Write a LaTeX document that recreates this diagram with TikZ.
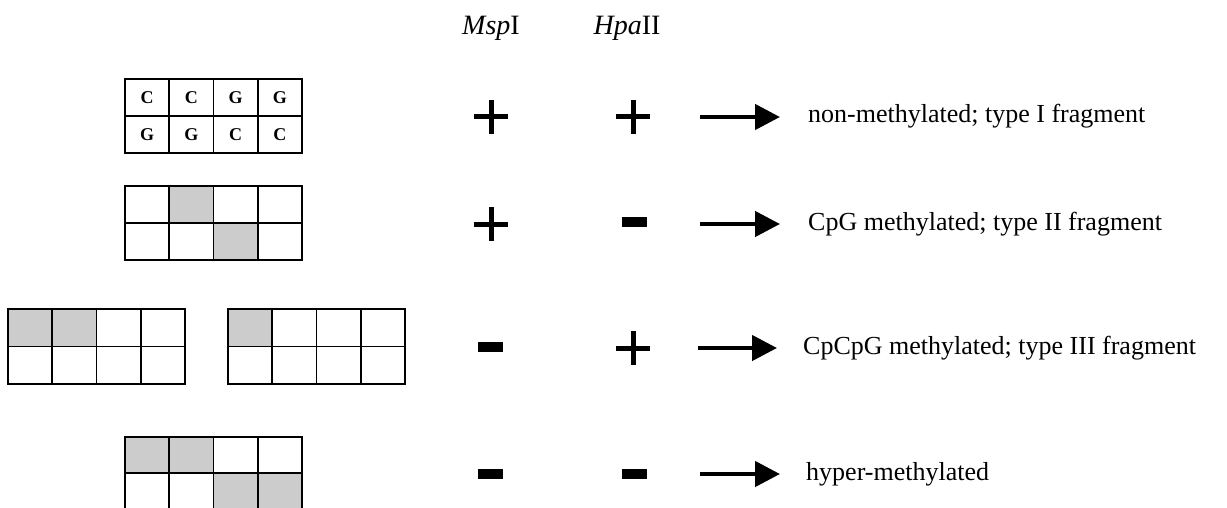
\documentclass[tikz,border=0pt]{standalone}
\usepackage{fontspec}
\setmainfont{Liberation Serif}
\usetikzlibrary{arrows.meta}
\definecolor{methgray}{RGB}{204,204,204}
\begin{document}
\begin{tikzpicture}[x=1pt,y=-1pt,
  cell/.style={draw=black, line width=1.8pt},
  meth/.style={fill=methgray},
  sign/.style={line width=5pt},
  minusbar/.style={fill=black},
  result/.style={-{Triangle[length=25pt,width=25pt]}, line width=4.5pt},
  label/.style={anchor=base west, inner sep=0pt, font=\fontsize{26}{31}\selectfont},
  enzyme/.style={anchor=base, inner sep=0pt, font=\fontsize{28}{34}\selectfont},
  base/.style={inner sep=0pt, font=\bfseries\fontsize{18}{20}\selectfont}]
\useasboundingbox (0,0) rectangle (1227,508);
\clip (0,0) rectangle (1227,508);

% enzyme headers
\node[enzyme] (msp) at (491,35) {\textit{Msp}I};
\node[enzyme] (hpa) at (627,35) {\textit{Hpa}II};

% row 1: CCGG / GGCC, unmethylated
\foreach \c in {0,...,3}\foreach \r in {0,1}
  \draw[cell] (125+\c*44.25,79+\r*37) rectangle ++(44.25,37);
\foreach \l [count=\i from 0] in {C,C,G,G}
  \node[base] (top\i) at (125+22.1+\i*44.25,97.5) {\l};
\foreach \l [count=\i from 0] in {G,G,C,C}
  \node[base] (bot\i) at (125+22.1+\i*44.25,134.5) {\l};

% row 2: inner C methylated on both strands
\fill[meth] (125+44.25,186) rectangle ++(44.25,37);
\fill[meth] (125+88.5,223) rectangle ++(44.25,37);
\foreach \c in {0,...,3}\foreach \r in {0,1}
  \draw[cell] (125+\c*44.25,186+\r*37) rectangle ++(44.25,37);

% row 3: outer C methylated (hemi- and fully)
\fill[meth] (8,309) rectangle ++(88.5,37.5);
\fill[meth] (228,309) rectangle ++(44.25,37.5);
\foreach \x in {8,228}\foreach \c in {0,...,3}\foreach \r in {0,1}
  \draw[cell] (\x+\c*44.25,309+\r*37.5) rectangle ++(44.25,37.5);

% row 4: both C methylated
\fill[meth] (125,437) rectangle ++(88.5,36);
\fill[meth] (125+88.5,473) rectangle ++(88.5,36);
\foreach \c in {0,...,3}\foreach \r in {0,1}
  \draw[cell] (125+\c*44.25,437+\r*36) rectangle ++(44.25,36);

% digestion results: + cut, - no cut
\draw[sign] (474,117) -- (508,117) (491,100) -- (491,134);
\draw[sign] (616,117) -- (650,117) (633,100) -- (633,134);
\draw[sign] (474,224) -- (508,224) (491,207) -- (491,241);
\fill[minusbar] (622,217) rectangle (647,227);
\fill[minusbar] (478,342) rectangle (503,352);
\draw[sign] (616,348) -- (650,348) (633,331) -- (633,365);
\fill[minusbar] (478,469) rectangle (503,479);
\fill[minusbar] (622,469) rectangle (647,479);

% interpretations
\node[label] (lab1) at (808,123) {non-methylated; type I fragment};
\node[label] (lab2) at (808,230) {CpG methylated; type II fragment};
\node[label] (lab3) at (803,354) {CpCpG methylated; type III fragment};
\node[label] (lab4) at (806,480) {hyper-methylated};

\coordinate (t1) at (700,117);
\coordinate (t2) at (700,224);
\coordinate (t3) at (698,348);
\coordinate (t4) at (700,474);
\draw[result, shorten >=28pt] (t1) -- (t1 -| lab1.west);
\draw[result, shorten >=28pt] (t2) -- (t2 -| lab2.west);
\draw[result, shorten >=26pt] (t3) -- (t3 -| lab3.west);
\draw[result, shorten >=26pt] (t4) -- (t4 -| lab4.west);
\end{tikzpicture}
\end{document}
